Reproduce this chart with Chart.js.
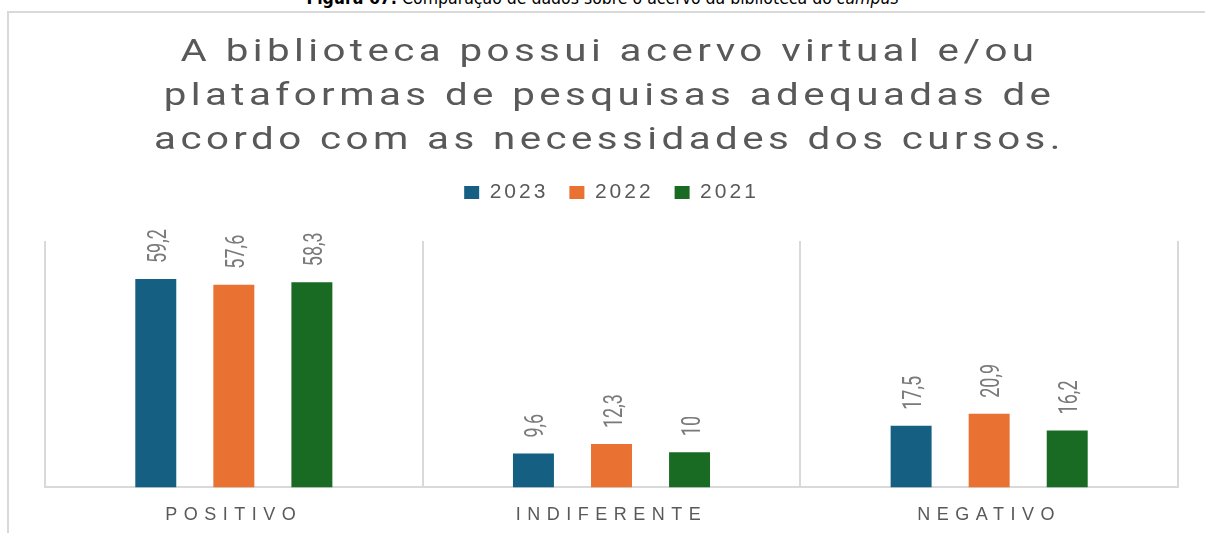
<!DOCTYPE html>
<html lang="pt-BR">
<head>
<meta charset="utf-8">
<title>Acervo da biblioteca</title>
<script src="https://cdn.jsdelivr.net/npm/chart.js@4.4.1/dist/chart.umd.min.js"></script>
<style>
  html, body { margin: 0; padding: 0; background: #fff; }
  body { width: 1205px; height: 533px; position: relative; overflow: hidden; }
  .caption {
    position: absolute; left: 0; top: -13px; width: 1205px;
    text-align: center; color: #000;
    font: 17.5px/22px "Liberation Sans Narrow", "DejaVu Sans Condensed", sans-serif;
    white-space: nowrap;
  }
  .frame {
    position: absolute; left: 7px; top: 11px; width: 1300px; height: 600px;
    border-left: 2px solid #d9d9d9; border-top: 2px solid #d9d9d9;
  }
  .chart-title {
    position: absolute; left: 7px; top: 29px; width: 1205px;
    text-align: center; color: #595959;
    font: 31px/44px Roboto, sans-serif; letter-spacing: 3.4px;
    transform: scaleX(1.3); transform-origin: 50% 0;
    white-space: nowrap;
  }
  .chart-wrap { position: absolute; left: 0; top: 0; width: 1205px; height: 552px; }
</style>
</head>
<body>
<div class="caption"><b>Figura 67:</b> Comparação de dados sobre o acervo da biblioteca do <i>campus</i></div>
<div class="frame"></div>
<div class="chart-wrap"><canvas id="chartAcervo"></canvas></div>
<div class="chart-title">A biblioteca possui acervo virtual e/ou<br>plataformas de pesquisas adequadas de<br>acordo com as necessidades dos cursos.</div>

<script>
/* ── data ─────────────────────────────────────────────── */
const categories = ['POSITIVO', 'INDIFERENTE', 'NEGATIVO'];
const years      = ['2023', '2022', '2021'];
const values2023 = [59.2, 9.6, 17.5];
const values2022 = [57.6, 12.3, 20.9];
const values2021 = [58.3, 10, 16.2];
const yearColors = ['#156082', '#E97132', '#196B24'];
const Y_MAX = 70;

/* ── text spacing ─────────────────────────────────────── */
const LEGEND_SPACING = '3px';
const TICK_SPACING   = '6.5px';

const fmt = v => String(v).replace('.', ',');

// extra room between legend and plot area
const legendGap = {
  id: 'legendGap',
  beforeInit(chart) {
    if (!chart.legend) return;
    const fit = chart.legend.fit;
    chart.legend.fit = function () { fit.call(this); this.height += 28; };
  }
};

// legend and axis labels are letter-spaced, value labels are not
const spacing = {
  id: 'spacing',
  beforeLayout(chart) { chart.ctx.letterSpacing = LEGEND_SPACING; },
  beforeDraw(chart)   { chart.ctx.letterSpacing = LEGEND_SPACING; },
  afterDraw(chart)    { chart.ctx.letterSpacing = '0px'; }
};

// rotated value above each bar
const barValues = {
  id: 'barValues',
  afterDatasetsDraw(chart) {
    const ctx = chart.ctx;
    ctx.save();
    ctx.letterSpacing = '0px';
    ctx.font = '25px Roboto, sans-serif';
    ctx.fillStyle = '#7a7a7a';
    ctx.textAlign = 'left';
    ctx.textBaseline = 'alphabetic';
    chart.data.datasets.forEach((ds, di) => {
      chart.getDatasetMeta(di).data.forEach((bar, i) => {
        ctx.save();
        ctx.translate(bar.x + 10, bar.y - 16);
        ctx.rotate(-Math.PI / 2);
        ctx.scale(0.72, 1);
        ctx.fillText(fmt(ds.data[i]), 0, 0);
        ctx.restore();
      });
    });
    ctx.restore();
    // x tick labels are drawn after this (ticks.z = 1)
    ctx.letterSpacing = TICK_SPACING;
  }
};

const seriesValues = [values2023, values2022, values2021];

new Chart(document.getElementById('chartAcervo'), {
  type: 'bar',
  data: {
    labels: categories,
    datasets: years.map((y, i) => ({
      label: y,
      data: seriesValues[i],
      backgroundColor: yearColors[i],
      borderWidth: 0,
      categoryPercentage: 0.62,
      barPercentage: 0.525
    }))
  },
  options: {
    responsive: true, maintainAspectRatio: false, animation: false,
    layout: { padding: { left: 45, right: 27, top: 161, bottom: 9 } },
    plugins: {
      legend: {
        display: true, position: 'top',
        labels: {
          color: '#595959', boxWidth: 15, boxHeight: 13, padding: 21,
          font: { family: 'Liberation Sans', size: 21 }
        }
      },
      title: { display: false },
      tooltip: { enabled: false }
    },
    scales: {
      x: {
        grid: { display: true, offset: true, color: '#d9d9d9', lineWidth: 2, drawTicks: false },
        border: { display: true, color: '#d9d9d9', width: 2 },
        ticks: {
          z: 1, color: '#595959', padding: 17, autoSkip: false, maxRotation: 0,
          font: { family: 'Liberation Sans', size: 18 }
        }
      },
      y: { display: false, min: 0, max: Y_MAX }
    }
  },
  plugins: [legendGap, spacing, barValues]
});
</script>
</body>
</html>
